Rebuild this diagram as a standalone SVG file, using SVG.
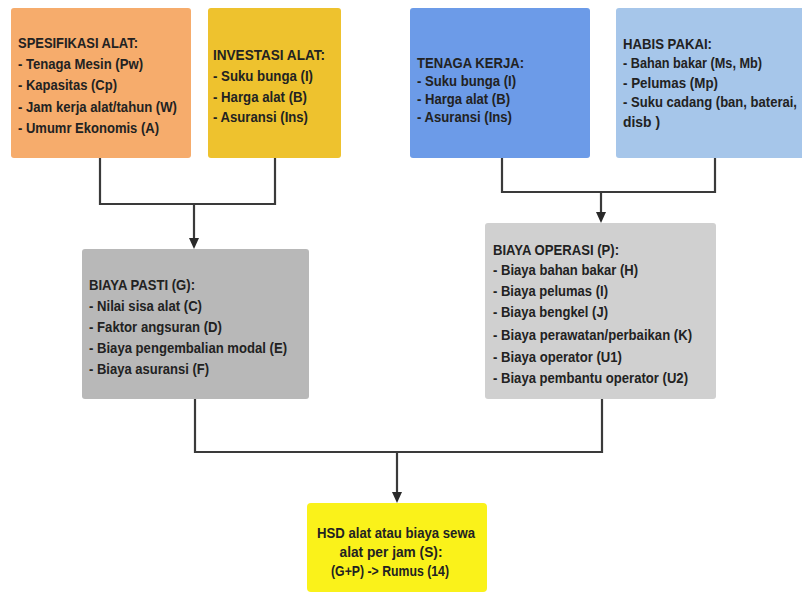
<svg xmlns="http://www.w3.org/2000/svg" width="802" height="594" viewBox="0 0 802 594">
<defs>
<style>
text{font-family:"Liberation Sans",Arial,sans-serif;font-weight:bold;font-size:15px;fill:#222222}
.c{fill:none;stroke:#3a3a3a;stroke-width:2.2}
.ah{fill:#2a2a2a}
</style>
</defs>
<rect width="802" height="594" fill="#ffffff"/>
<g id="connectors">
<path class="c" d="M100,158 V204 H275 V158"/>
<path class="c" d="M194,204 V240"/>
<path class="ah" d="M189,238 L199,238 L194,249 Z"/>
<path class="c" d="M502,158 V192 H715 V158"/>
<path class="c" d="M601,192 V214"/>
<path class="ah" d="M596,212 L606,212 L601,223 Z"/>
<path class="c" d="M195,399 V452 H602 V399"/>
<path class="c" d="M397,452 V494"/>
<path class="ah" d="M392,492 L402,492 L397,503 Z"/>
</g>
<g id="spesifikasi">
<rect x="11" y="8" width="180" height="150" rx="3" fill="#F6AC6C"/>
<text x="18" y="48" textLength="120" lengthAdjust="spacingAndGlyphs">SPESIFIKASI ALAT:</text>
<text x="18" y="69" textLength="125" lengthAdjust="spacingAndGlyphs">- Tenaga Mesin (Pw)</text>
<text x="18" y="90" textLength="99" lengthAdjust="spacingAndGlyphs">- Kapasitas (Cp)</text>
<text x="18" y="112" textLength="159" lengthAdjust="spacingAndGlyphs">- Jam kerja alat/tahun (W)</text>
<text x="18" y="133" textLength="141" lengthAdjust="spacingAndGlyphs">- Umumr Ekonomis (A)</text>
</g>
<g id="investasi">
<rect x="208" y="8" width="133" height="150" rx="3" fill="#EEC22E"/>
<text x="213" y="60" textLength="112" lengthAdjust="spacingAndGlyphs">INVESTASI  ALAT:</text>
<text x="213" y="81" textLength="100" lengthAdjust="spacingAndGlyphs">- Suku bunga (I)</text>
<text x="213" y="102" textLength="94" lengthAdjust="spacingAndGlyphs">- Harga alat (B)</text>
<text x="213" y="122" textLength="95" lengthAdjust="spacingAndGlyphs">- Asuransi (Ins)</text>
</g>
<g id="tenaga">
<rect x="410" y="8" width="180" height="150" rx="3" fill="#6C9BE8"/>
<text x="417" y="68" textLength="107" lengthAdjust="spacingAndGlyphs">TENAGA KERJA:</text>
<text x="417" y="86" textLength="99" lengthAdjust="spacingAndGlyphs">- Suku bunga (I)</text>
<text x="417" y="104" textLength="93" lengthAdjust="spacingAndGlyphs">- Harga alat (B)</text>
<text x="417" y="122" textLength="95" lengthAdjust="spacingAndGlyphs">- Asuransi (Ins)</text>
</g>
<g id="habis">
<rect x="616" y="8" width="190" height="150" rx="3" fill="#A6C6EA"/>
<text x="623" y="49" textLength="89" lengthAdjust="spacingAndGlyphs">HABIS PAKAI:</text>
<text x="623" y="68" textLength="139" lengthAdjust="spacingAndGlyphs">- Bahan bakar (Ms, Mb)</text>
<text x="623" y="88" textLength="95" lengthAdjust="spacingAndGlyphs">- Pelumas (Mp)</text>
<text x="623" y="107" textLength="174" lengthAdjust="spacingAndGlyphs">- Suku cadang (ban, baterai,</text>
<text x="623" y="127" textLength="37" lengthAdjust="spacingAndGlyphs">disb )</text>
</g>
<g id="biaya-pasti">
<rect x="82" y="249" width="227" height="150" rx="3" fill="#B8B8B8"/>
<text x="89" y="290" textLength="106" lengthAdjust="spacingAndGlyphs">BIAYA PASTI (G):</text>
<text x="89" y="311" textLength="113" lengthAdjust="spacingAndGlyphs">- Nilai sisa alat (C)</text>
<text x="89" y="332" textLength="133" lengthAdjust="spacingAndGlyphs">- Faktor angsuran (D)</text>
<text x="89" y="353" textLength="198" lengthAdjust="spacingAndGlyphs">- Biaya pengembalian modal (E)</text>
<text x="89" y="374" textLength="120" lengthAdjust="spacingAndGlyphs">- Biaya asuransi (F)</text>
</g>
<g id="biaya-operasi">
<rect x="485" y="223" width="231" height="176" rx="3" fill="#D0D0D0"/>
<text x="493" y="255" textLength="126" lengthAdjust="spacingAndGlyphs">BIAYA OPERASI (P):</text>
<text x="493" y="275" textLength="145" lengthAdjust="spacingAndGlyphs">- Biaya bahan bakar (H)</text>
<text x="493" y="296" textLength="115" lengthAdjust="spacingAndGlyphs">- Biaya pelumas (I)</text>
<text x="493" y="317" textLength="115" lengthAdjust="spacingAndGlyphs">- Biaya bengkel (J)</text>
<text x="493" y="340" textLength="199" lengthAdjust="spacingAndGlyphs">- Biaya perawatan/perbaikan (K)</text>
<text x="493" y="362" textLength="129" lengthAdjust="spacingAndGlyphs">- Biaya operator (U1)</text>
<text x="493" y="383" textLength="195" lengthAdjust="spacingAndGlyphs">- Biaya pembantu operator (U2)</text>
</g>
<g id="hsd">
<rect x="307" y="503" width="180" height="89" rx="4" fill="#FAF21A"/>
<text x="396" y="538" text-anchor="middle" textLength="158" lengthAdjust="spacingAndGlyphs">HSD alat atau biaya sewa</text>
<text x="391" y="557" text-anchor="middle" textLength="103" lengthAdjust="spacingAndGlyphs">alat per jam (S):</text>
<text x="390" y="576" text-anchor="middle" textLength="118" lengthAdjust="spacingAndGlyphs">(G+P) -&gt; Rumus (14)</text>
</g>
</svg>
